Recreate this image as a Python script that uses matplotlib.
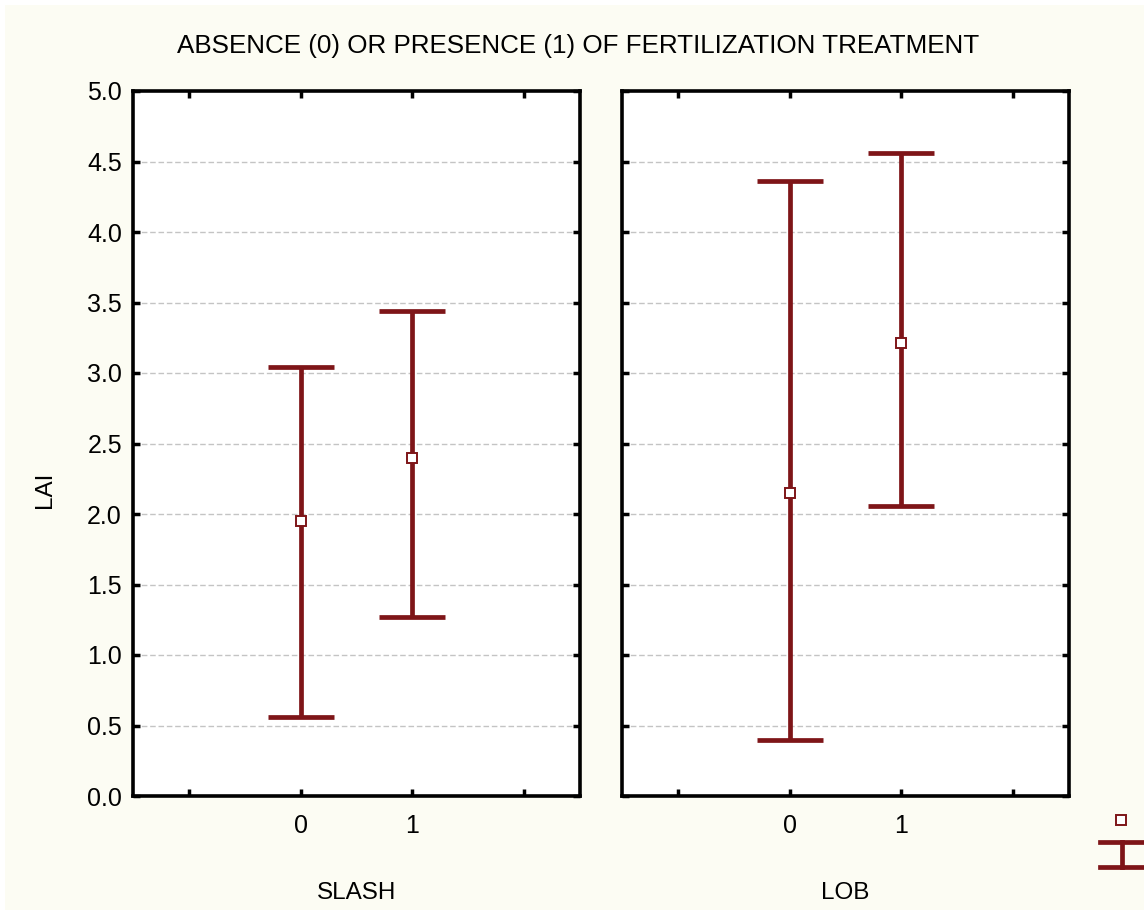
import numpy as np
import matplotlib
matplotlib.use("Agg")
import matplotlib.pyplot as plt
from matplotlib.lines import Line2D
from matplotlib.patches import Rectangle

plt.rcParams['font.family'] = ['Liberation Sans', 'DejaVu Sans']

# values
groups = ['SLASH', 'LOB']
levels = [0, 1]
means = {'SLASH': [1.95, 2.40], 'LOB': [2.15, 3.21]}
lower = {'SLASH': [0.56, 1.27], 'LOB': [0.40, 2.06]}
upper = {'SLASH': [3.04, 3.44], 'LOB': [4.36, 4.56]}
yticks = [0.0, 0.5, 1.0, 1.5, 2.0, 2.5, 3.0, 3.5, 4.0, 4.5, 5.0]

title = 'ABSENCE (0) OR PRESENCE (1) OF FERTILIZATION TREATMENT'
ylabel = 'LAI'

bg = '#fcfcf3'
red = '#7e1518'
W, H = 1144, 915

fig = plt.figure(figsize=(W / 100, H / 100), dpi=100, facecolor='white')
fig.add_artist(Rectangle((5 / W, 5 / H), 1, 1 - 10 / H, transform=fig.transFigure,
                         facecolor=bg, edgecolor='none', zorder=-10))

lefts = [133, 622]
for gi, (g, lx) in enumerate(zip(groups, lefts)):
    ax = fig.add_axes([lx / W, 1 - 796 / H, 447 / W, 705 / H])
    ax.set_facecolor('white')
    ax.errorbar(levels, means[g],
                yerr=[np.subtract(means[g], lower[g]), np.subtract(upper[g], means[g])],
                fmt='none', ecolor=red, elinewidth=3.4, capsize=23.8, capthick=3.4, zorder=3)
    ax.plot(levels, means[g], 's', ms=7.5, mfc='white', mec=red, mew=1.4, zorder=4)
    ax.set_xlim(-1.5, 2.5)
    ax.set_ylim(0, 5)
    ax.set_xticks([-1, 0, 1, 2])
    ax.set_xticklabels(['', '0', '1', ''])
    ax.set_yticks(yticks)
    if gi == 0:
        ax.set_yticklabels([f'{v:.1f}' for v in yticks])
    else:
        ax.set_yticklabels([])
    ax.tick_params(direction='in', length=5, width=2.5, top=True, right=True,
                   labelsize=18, colors='black')
    ax.tick_params(axis='x', pad=13)
    ax.tick_params(axis='y', pad=8)
    for s in ax.spines.values():
        s.set_linewidth(2.6)
    for v in yticks[1:-1]:
        ax.axhline(v, color='#c4c4c4', lw=1.0, ls=(0, (4, 2)), zorder=1)
    ax.set_xlabel(g, fontsize=17.5)
    ax.xaxis.set_label_coords(0.5, -0.122)
    ax.xaxis.label.set_va('top')

fig.text(578 / W, 1 - 46 / H, title, ha='center', va='center', fontsize=18.7)
fig.text(45 / W, 1 - 490 / H, ylabel, ha='center', va='center', rotation=90, fontsize=17.5)

# legend glyphs at the bottom right corner
fig.add_artist(Line2D([1121 / W], [1 - 820 / H], marker='s', ms=7.5, mfc='white', mec=red,
                      mew=1.4, transform=fig.transFigure))
fig.add_artist(Line2D([1122 / W, 1122 / W], [1 - 842 / H, 1 - 867 / H], color=red, lw=3.4,
                      transform=fig.transFigure))
for yy in (842, 867):
    fig.add_artist(Line2D([1100 / W, 1150 / W], [1 - yy / H, 1 - yy / H], color=red, lw=3.4,
                          transform=fig.transFigure))

fig.savefig('out.png', dpi=100, facecolor=fig.get_facecolor())
